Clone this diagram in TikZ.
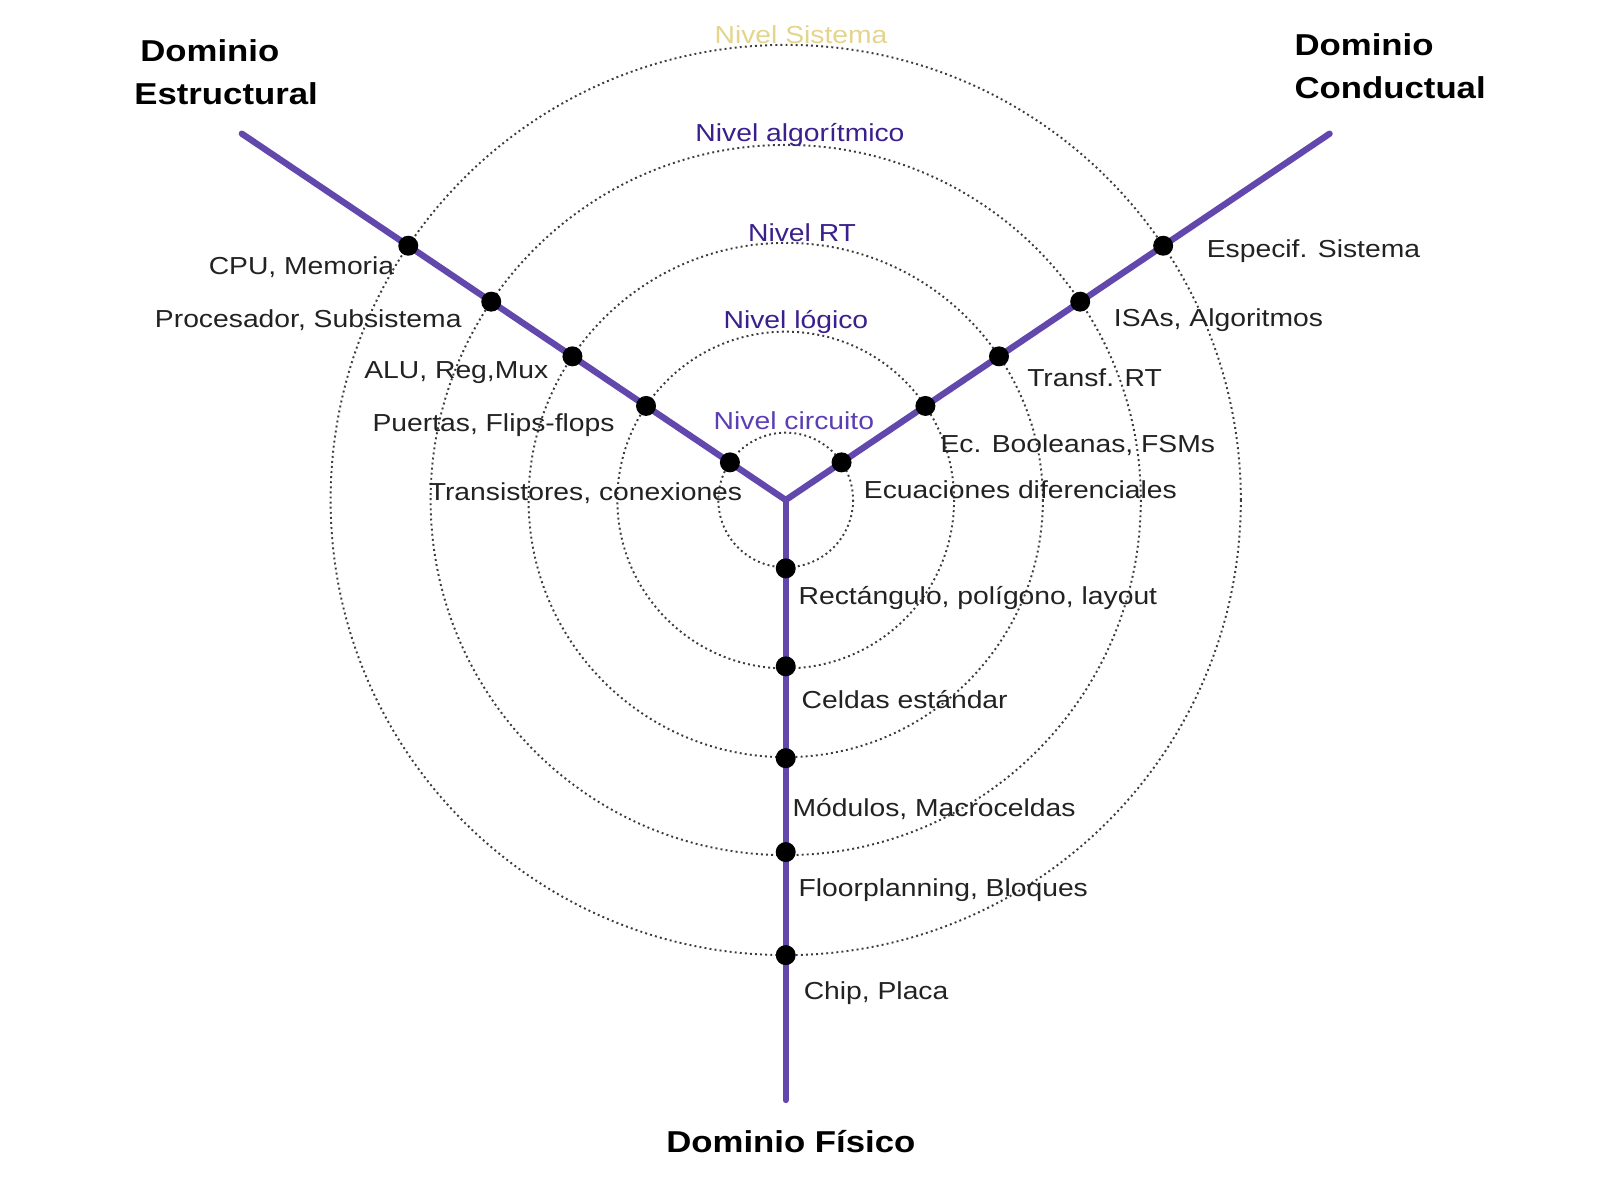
\documentclass[tikz,border=0pt]{standalone}
\usepackage{fontspec}
\setmainfont[FakeStretch=1.15]{Liberation Sans}
\usetikzlibrary{calc}
\definecolor{armcol}{RGB}{98,72,172}
\definecolor{lvldark}{RGB}{58,32,140}
\definecolor{lvllight}{RGB}{92,62,180}
\definecolor{lvlsys}{RGB}{228,212,140}
\definecolor{txtcol}{RGB}{34,34,34}
\definecolor{ringcol}{RGB}{60,60,60}
\tikzset{
  ring/.style={draw=ringcol, line width=0.55pt, dash pattern=on 0.55pt off 0.9pt},
  arm/.style={draw=armcol, line width=1.8pt, line cap=round},
  pt/.style={circle, fill=black, inner sep=0pt, minimum size=0.2cm},
  lbl/.style={inner sep=0pt, text=txtcol, font=\fontsize{7pt}{8pt}\selectfont},
  lvl/.style={inner sep=0pt, font=\fontsize{7pt}{8pt}\selectfont},
  dom/.style={inner sep=0pt, text=black, align=left, font=\fontsize{8.6pt}{12.3pt}\selectfont\bfseries}
}
\begin{document}
\begin{tikzpicture}[x=0.010204cm, y=-0.010204cm]
\useasboundingbox (0,0) rectangle (1568,1176);
\coordinate (c) at (770,490);
\coordinate (endL) at (237,131);
\coordinate (endR) at (1303,131);
\coordinate (endB) at (770,1078);
% rings
\draw[ring] (c) circle[radius=66];
\draw[ring] (c) circle[radius=165];
\draw[ring] (c) circle[radius=252];
\draw[ring] (c) circle[radius=348];
\draw[ring] (c) circle[radius=446];
% arms
\draw[arm] (c) -- (endL);
\draw[arm] (c) -- (endR);
\draw[arm] (c) -- (endB);
% dots left
\node[pt] (l1) at (715.3,453.1) {};
\node[pt] (l2) at (633.1,397.8) {};
\node[pt] (l3) at (561.0,349.2) {};
\node[pt] (l4) at (481.4,295.6) {};
\node[pt] (l5) at (400.1,240.8) {};
% dots right
\node[pt] (r1) at (824.7,453.1) {};
\node[pt] (r2) at (906.9,397.8) {};
\node[pt] (r3) at (979.0,349.2) {};
\node[pt] (r4) at (1058.6,295.6) {};
\node[pt] (r5) at (1139.9,240.8) {};
% dots bottom
\node[pt] (b1) at (770,557) {};
\node[pt] (b2) at (770,653) {};
\node[pt] (b3) at (770,743) {};
\node[pt] (b4) at (770,835) {};
\node[pt] (b5) at (770,936) {};
% level labels
\node[lvl, text=lvlsys] (nsis) at (785,34) {Nivel Sistema};
\node[lvl, text=lvldark] (nalg) at (784,132) {Nivel algorítmico};
\node[lvl, text=lvldark] (nrt) at (786,228) {Nivel RT};
\node[lvl, text=lvldark] (nlog) at (780,316) {Nivel lógico};
\node[lvl, text=lvllight] (ncir) at (778,412) {Nivel circuito};
% structural labels
\node[lbl, anchor=east] (s5) at (387,262) {CPU, Memoria};
\node[lbl, anchor=east] (s4) at (453,314) {Procesador, Subsistema};
\node[lbl, anchor=east] (s3) at (538,365) {ALU, Reg,Mux};
\node[lbl, anchor=east] (s2) at (603,417) {Puertas, Flips-flops};
\node[lbl, anchor=east] (s1) at (728,483) {Transistores, conexiones};
% behavioural labels
\node[lbl, anchor=west] (c5) at (1182,246) {Especif. Sistema};
\node[lbl, anchor=west] (c4) at (1091,314) {ISAs, Algoritmos};
\node[lbl, anchor=west] (c3) at (1006,370) {Transf. RT};
\node[lbl, anchor=west] (c2) at (921,436) {Ec. Booleanas, FSMs};
\node[lbl, anchor=west] (c1) at (846,480) {Ecuaciones diferenciales};
% physical labels
\node[lbl, anchor=west] (f1) at (782,586) {Rectángulo, polígono, layout};
\node[lbl, anchor=west] (f2) at (785,686) {Celdas estándar};
\node[lbl, anchor=west] (f3) at (776,793) {Módulos, Macroceldas};
\node[lbl, anchor=west] (f4) at (782,872) {Floorplanning, Bloques};
\node[lbl, anchor=west] (f5) at (787,973) {Chip, Placa};
% domain titles
\node[dom, anchor=north west] (dE) at (131,38) {\hspace*{0.06cm}Dominio\\Estructural};
\node[dom, anchor=north west] (dC) at (1268,32) {Dominio\\Conductual};
\node[dom] (dF) at (775,1119) {Dominio Físico};
\end{tikzpicture}
\end{document}
